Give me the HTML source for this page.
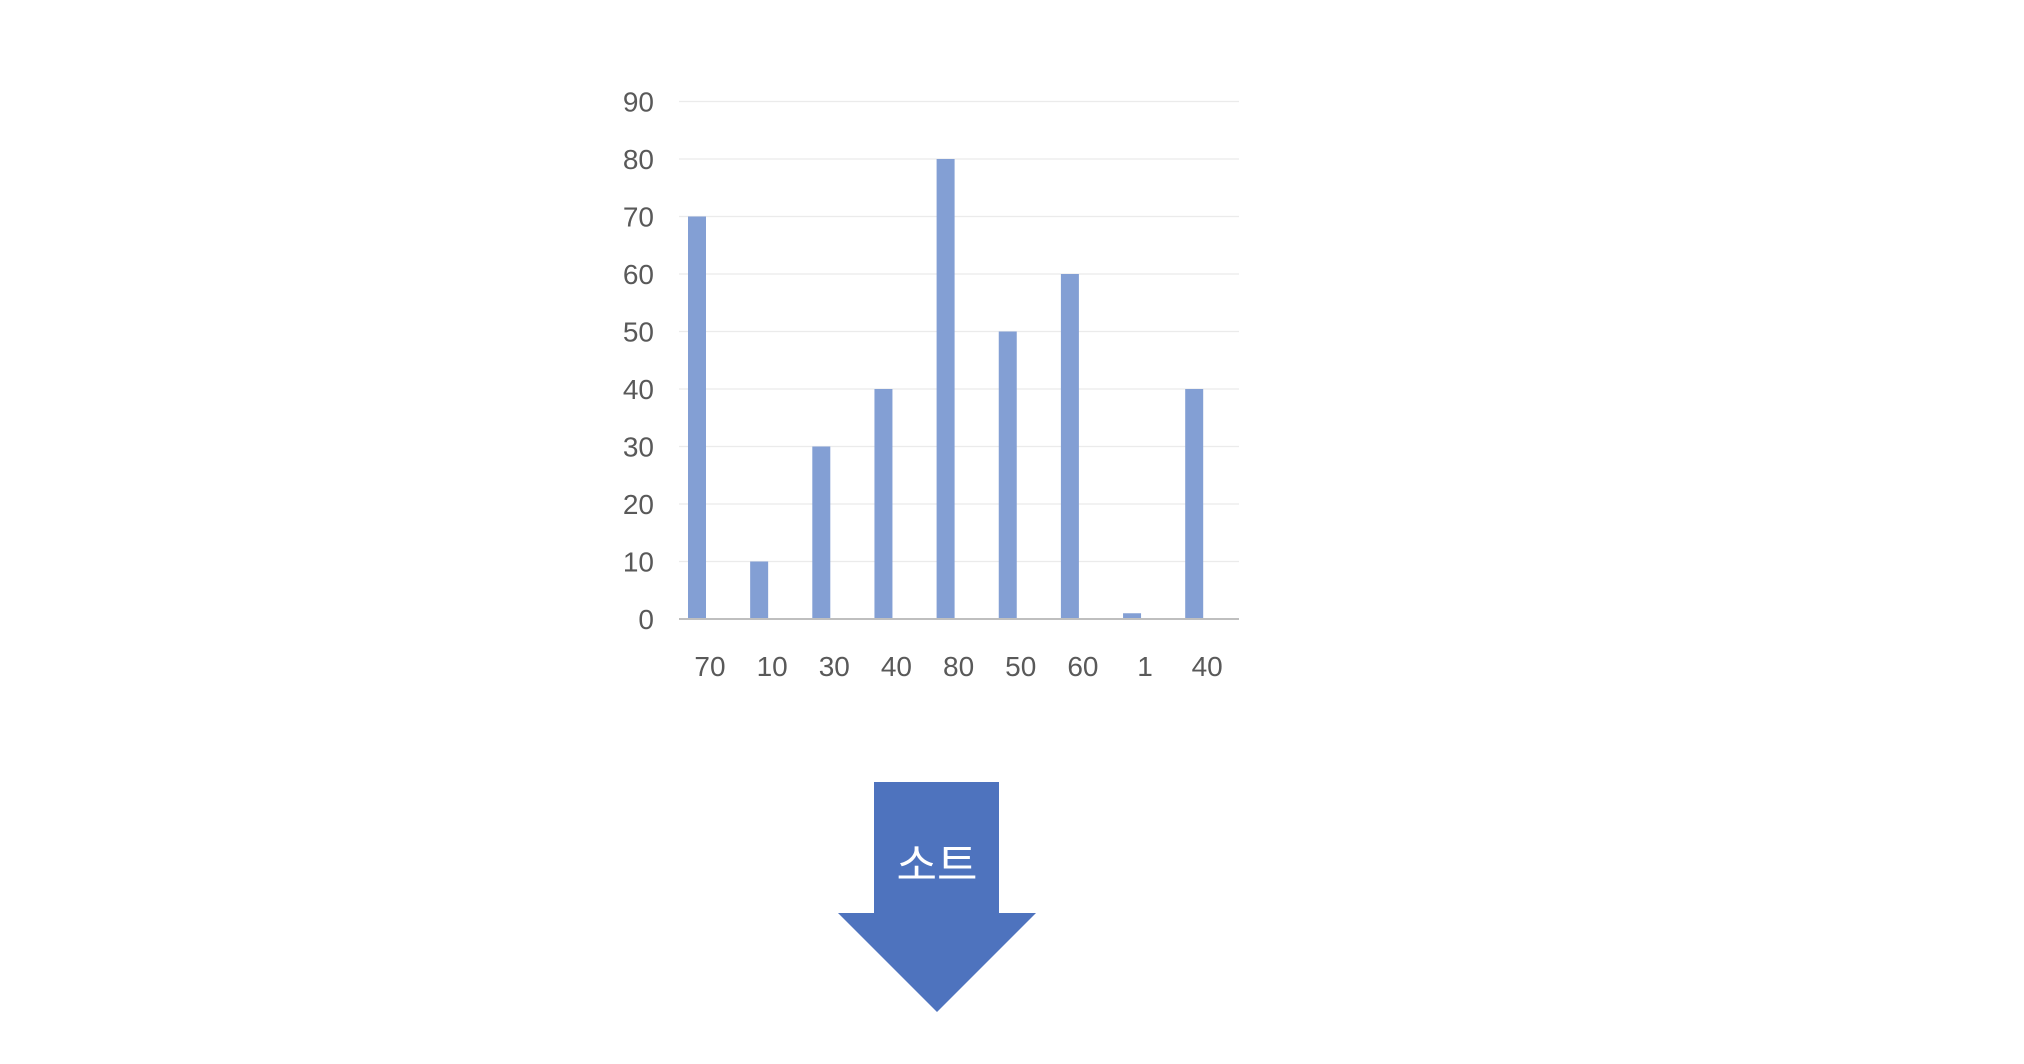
<!DOCTYPE html>
<html><head><meta charset="utf-8"><style>
html,body{margin:0;padding:0;background:#fff;width:2024px;height:1064px;overflow:hidden}
svg text{font-family:"Liberation Sans","Noto Sans CJK KR",sans-serif}
</style></head><body>
<svg id="chart" width="2024" height="1064" xmlns="http://www.w3.org/2000/svg">
<g id="grid"></g>
<g id="yticks"></g>
<g id="bars"></g>
<line x1="679" x2="1239" y1="619" y2="619" stroke="#BFBFBF" stroke-width="2"/>
<g id="xticks"></g>
<g>
<polygon points="874,782 999,782 999,913 1036,913 937,1012 838,913 874,913" fill="#4E73BE"/>
<text x="937" y="880" text-anchor="middle" font-size="44" fill="#fff">소트</text>
</g>
</svg>
<script>
const categories = ["70","10","30","40","80","50","60","1","40"];
const values = [70,10,30,40,80,50,60,1,40];
const yTicks = [0,10,20,30,40,50,60,70,80,90];
const NS="http://www.w3.org/2000/svg";
const y0=619, yTop=101.5, yMax=90, x0=697, step=62.15, bw=18;
function yScale(v){return y0-(y0-yTop)*v/yMax;}
function xScale(i){return x0+step*i;}
const grid=document.getElementById('grid'), yt=document.getElementById('yticks'), bars=document.getElementById('bars'), xt=document.getElementById('xticks');
yTicks.forEach(t=>{
  const y=yScale(t);
  if(t>0){const l=document.createElementNS(NS,'line');
  
  
  l.setAttribute('x1',679);l.setAttribute('x2',1239);l.setAttribute('y1',y);l.setAttribute('y2',y);
  l.setAttribute('stroke','#EBEBEB');l.setAttribute('stroke-width','1.3');grid.appendChild(l);}
  const tx=document.createElementNS(NS,'text');
  
  
  tx.setAttribute('x',654);tx.setAttribute('y',y+10);tx.setAttribute('text-anchor','end');
  tx.setAttribute('font-size','28');tx.setAttribute('fill','#595959');tx.textContent=t;yt.appendChild(tx);
});
values.forEach((v,i)=>{
  const r=document.createElementNS(NS,'rect');
  
  
  r.setAttribute('x',xScale(i)-bw/2);r.setAttribute('y',yScale(v));
  r.setAttribute('width',bw);r.setAttribute('height',y0-yScale(v));
  r.setAttribute('fill','#839FD4');bars.appendChild(r);
  const tx=document.createElementNS(NS,'text');
  
  
  tx.setAttribute('x',xScale(i)+13);tx.setAttribute('y',676);tx.setAttribute('text-anchor','middle');
  tx.setAttribute('font-size','28');tx.setAttribute('fill','#595959');tx.textContent=categories[i];xt.appendChild(tx);
});
</script>
</body></html>
